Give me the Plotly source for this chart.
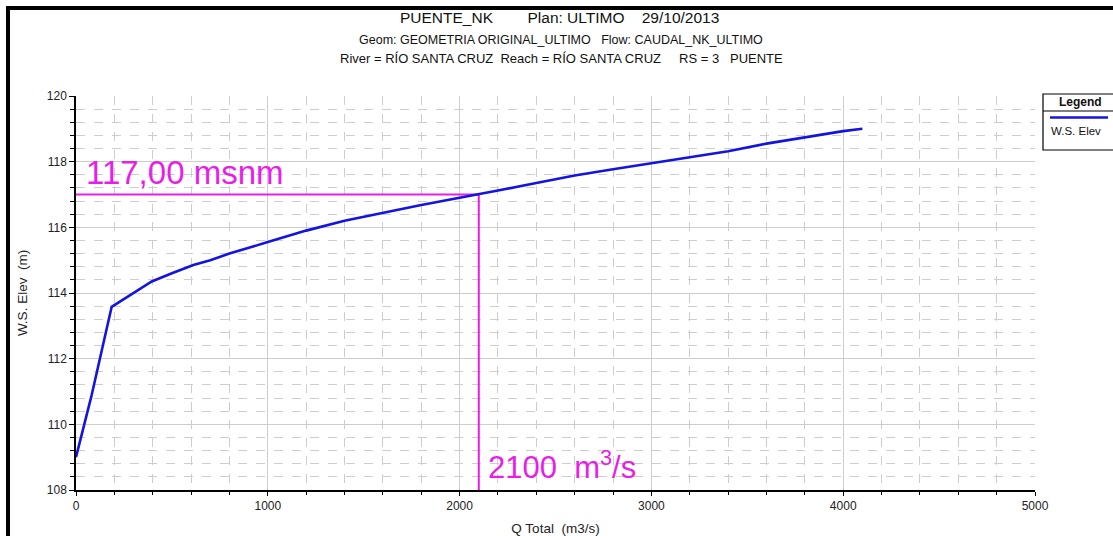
import plotly.graph_objects as go

# ---- data ----
Q_total = [0, 80, 186, 300, 395, 500, 612, 700, 800, 1000, 1200, 1400, 1600, 1800,
           2000, 2100, 2200, 2400, 2600, 2800, 3000, 3200, 3400, 3600, 3800, 4000, 4100]
WS_elev = [109.0, 110.85, 113.58, 114.0, 114.35, 114.6, 114.85, 115.0, 115.2, 115.55,
           115.9, 116.2, 116.45, 116.68, 116.9, 117.0, 117.12, 117.35, 117.58, 117.77,
           117.95, 118.13, 118.32, 118.55, 118.75, 118.93, 119.0]
ref_Q = 2100
ref_WS = 117.0
x_range = [0, 5000]
y_range = [108, 120]
series_name = "W.S. Elev"

title1 = "PUENTE_NK" + "\u00a0" * 8 + "Plan: ULTIMO" + "\u00a0" * 4 + "29/10/2013"
title2 = "Geom: GEOMETRIA ORIGINAL_ULTIMO" + "\u00a0" * 3 + "Flow: CAUDAL_NK_ULTIMO"
title3 = ("River = RÍO SANTA CRUZ" + "\u00a0" * 2 + "Reach = RÍO SANTA CRUZ" + "\u00a0" * 5
          + "RS = 3" + "\u00a0" * 3 + "PUENTE")

W, H = 1113, 536
L, R, T, B = 76, 78, 96, 46
PW, PH = W - L - R, H - T - B


def px(xp):
    return (xp - L) / PW


def py(yp):
    return (H - B - yp) / PH


MAG = "#e81ee8"
BLUE = "#1414e0"
FONT = "Liberation Sans, Arial, sans-serif"

fig = go.Figure()
fig.add_trace(go.Scatter(x=[x_range[0], ref_Q, ref_Q], y=[ref_WS, ref_WS, y_range[0]],
                         mode="lines", line=dict(color=MAG, width=2), showlegend=False,
                         hoverinfo="skip"))
fig.add_trace(go.Scatter(x=Q_total, y=WS_elev, mode="lines", name=series_name,
                         line=dict(color=BLUE, width=2.6), showlegend=False))

grid = "#cdcdcd"
fig.update_xaxes(range=x_range, dtick=1000, tick0=0, showgrid=True, gridcolor=grid, gridwidth=1.3,
                 zeroline=False, showline=True, linecolor="black", linewidth=2,
                 ticks="outside", ticklen=4, tickcolor="black", automargin=False,
                 tickfont=dict(family=FONT, size=12, color="#222"),
                 minor=dict(dtick=200, tick0=0, showgrid=True, gridcolor=grid, griddash="dash",
                            gridwidth=1, ticks="outside", ticklen=3, tickcolor="black"),
                 title=dict(text="Q Total\u00a0\u00a0(m3/s)", font=dict(family=FONT, size=13.5, color="#222"),
                            standoff=12))
fig.update_yaxes(range=y_range, dtick=2, tick0=108, showgrid=True, gridcolor=grid, gridwidth=1.3,
                 zeroline=False, showline=True, linecolor="black", linewidth=1.5,
                 ticks="outside", ticklen=5, tickcolor="black", automargin=False,
                 tickfont=dict(family=FONT, size=12, color="#222"),
                 minor=dict(dtick=0.4, tick0=108, showgrid=True, gridcolor=grid, griddash="dash",
                            gridwidth=1, ticks="outside", ticklen=4, tickcolor="black"),
                 title=dict(text="W.S. Elev\u00a0\u00a0(m)", font=dict(family=FONT, size=13.5, color="#222"),
                            standoff=16))

shapes = [
    # outer frame
    dict(type="rect", xref="paper", yref="paper", x0=px(8), x1=px(1130), y0=py(560), y1=py(8),
         line=dict(color="black", width=4), layer="above"),
    # legend box
    dict(type="rect", xref="paper", yref="paper", x0=px(1043), x1=px(1130), y0=py(150), y1=py(94),
         line=dict(color="black", width=1.2), fillcolor="white", layer="below"),
    dict(type="line", xref="paper", yref="paper", x0=px(1043), x1=px(1130), y0=py(111), y1=py(111),
         line=dict(color="black", width=1.2)),
    dict(type="line", xref="paper", yref="paper", x0=px(1050), x1=px(1108), y0=py(117.5), y1=py(117.5),
         line=dict(color=BLUE, width=2.6)),
]

ann = [
    dict(text=title1, x=px(559), y=py(18), font=dict(family=FONT, size=15.5, color="#111")),
    dict(text=title2, x=px(561), y=py(40), font=dict(family=FONT, size=12.5, color="#111")),
    dict(text=title3, x=px(561), y=py(58), font=dict(family=FONT, size=13, color="#111")),
    dict(text="<b>Legend</b>", x=px(1080), y=py(102.5), font=dict(family=FONT, size=12, color="#111")),
    dict(text=series_name, x=px(1049), y=py(131), xanchor="left", font=dict(family=FONT, size=11.5, color="#111")),
    dict(text="117,00 msnm", x=px(84), y=py(172), xanchor="left", font=dict(family=FONT, size=33, color=MAG)),
    dict(text="2100\u00a0\u00a0m<sup>3</sup>/s", x=px(486), y=py(465), xanchor="left",
         font=dict(family=FONT, size=31, color=MAG)),
]
for a in ann:
    a.setdefault("xanchor", "center")
    a.setdefault("yanchor", "middle")
    a.update(xref="paper", yref="paper", showarrow=False)

fig.update_layout(width=W, height=H, margin=dict(l=L, r=R, t=T, b=B, pad=0, autoexpand=False),
                  paper_bgcolor="white", plot_bgcolor="white",
                  shapes=shapes, annotations=ann, showlegend=False,
                  font=dict(family=FONT))

fig.write_html("out.html")
